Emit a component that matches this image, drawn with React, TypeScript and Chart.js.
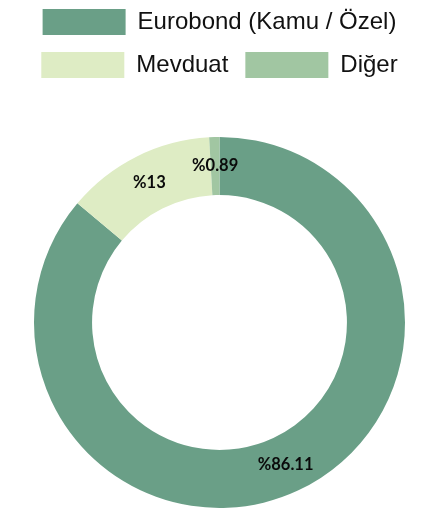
import React, { useEffect, useRef } from "react";
import { Chart, registerables } from "chart.js";

Chart.register(...registerables);

const categories = ["Eurobond (Kamu / Özel)", "Mevduat", "Diğer"];
const values = [86.11, 13, 0.89];
const valueLabels = ["%86.11", "%13", "%0.89"];
const colors = ["#6a9f87", "#deecc4", "#a1c6a2"];

const sliceLabelPlugin = {
  id: "sliceLabels",
  afterDatasetsDraw(chart: any) {
    const ctx = chart.ctx;
    const meta = chart.getDatasetMeta(0);
    ctx.save();
    ctx.font = "bold 16.5px Lato, 'Liberation Sans', sans-serif";
    ctx.fillStyle = "#0a0a0a";
    ctx.textAlign = "center";
    ctx.textBaseline = "middle";
    meta.data.forEach((arc: any, i: number) => {
      const p = arc.tooltipPosition();
      ctx.fillText(valueLabels[i], p.x, p.y);
    });
    ctx.restore();
  },
};

const legendSpacePlugin = {
  id: "legendSpace",
  beforeInit(chart: any) {
    const origFit = chart.legend.fit;
    chart.legend.fit = function () {
      origFit.bind(chart.legend)();
      this.height = 145;
    };
  },
};

export default function App() {
  const ref = useRef<HTMLCanvasElement>(null);
  useEffect(() => {
    if (!ref.current) return;
    const chart = new Chart(ref.current, {
      type: "doughnut",
      data: {
        labels: categories,
        datasets: [
          {
            data: values,
            backgroundColor: colors,
            borderWidth: 0,
          },
        ],
      },
      options: {
        animation: false,
        responsive: true,
        maintainAspectRatio: false,
        cutout: "68.7%",
        layout: { padding: { left: 18, right: 0, top: -8, bottom: 3 } },
        plugins: {
          legend: {
            position: "top",
            labels: {
              boxWidth: 83,
              boxHeight: 26,
              padding: 17,
              color: "#111",
              font: { size: 24, family: "'Liberation Sans', Arial, sans-serif" },
            },
          },
          tooltip: { enabled: false },
        },
      },
      plugins: [sliceLabelPlugin, legendSpacePlugin],
    });
    return () => chart.destroy();
  }, []);
  return (
    <div style={{ position: "fixed", left: 0, top: 0, width: 421, height: 511 }}>
      <canvas ref={ref} />
    </div>
  );
}
